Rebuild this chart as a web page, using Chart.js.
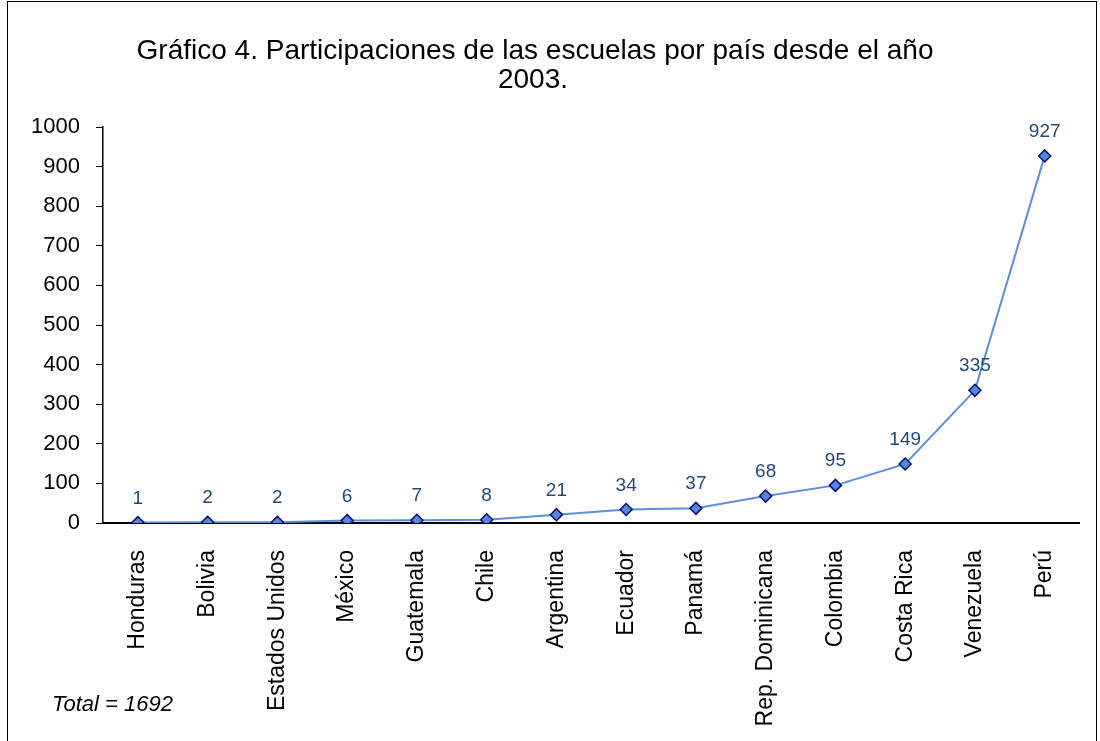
<!DOCTYPE html>
<html>
<head>
<meta charset="utf-8">
<script src="https://cdn.jsdelivr.net/npm/chart.js@4/dist/chart.umd.min.js"></script>
<style>
  html, body { margin: 0; padding: 0; background: #fff; }
  #wrap { width: 1100px; height: 741px; position: relative; }
</style>
</head>
<body>
<div id="wrap"><canvas id="chart" width="1100" height="741"></canvas></div>
<script>
const paises = ["Honduras", "Bolivia", "Estados Unidos", "México", "Guatemala", "Chile", "Argentina",
                "Ecuador", "Panamá", "Rep. Dominicana", "Colombia", "Costa Rica", "Venezuela", "Perú"];
const participaciones = [1, 2, 2, 6, 7, 8, 21, 34, 37, 68, 95, 149, 335, 927];
const tituloLineas = ["Gráfico 4. Participaciones de las escuelas por país desde el año", "2003."];
const notaTotal = "Total = 1692";

const FONT = "'Liberation Sans', Arial, sans-serif";

// marco, título, nota y etiquetas de valores
const extras = {
  id: 'extras',
  afterDatasetsDraw(chart) {
    const ctx = chart.ctx;
    ctx.save();
    ctx.strokeStyle = '#000';
    ctx.lineWidth = 1;
    ctx.strokeRect(7.5, 1.5, 1089, 760);

    ctx.fillStyle = '#000';
    ctx.textAlign = 'center';
    ctx.textBaseline = 'alphabetic';
    ctx.font = `28px ${FONT}`;
    ctx.fillText(tituloLineas[0], 535, 59);
    ctx.fillText(tituloLineas[1], 533, 88);

    ctx.textAlign = 'left';
    ctx.font = `italic 22px ${FONT}`;
    ctx.fillText(notaTotal, 52, 711);

    const meta = chart.getDatasetMeta(0);
    ctx.fillStyle = '#1F497D';
    ctx.textAlign = 'center';
    ctx.font = `19px ${FONT}`;
    meta.data.forEach((pt, i) => {
      ctx.fillText(String(participaciones[i]), pt.x, pt.y - 19);
    });
    ctx.restore();
  }
};

new Chart(document.getElementById('chart'), {
  type: 'line',
  data: {
    labels: paises,
    datasets: [{
      data: participaciones,
      borderColor: '#5B8FDB',
      borderWidth: 2,
      tension: 0,
      pointStyle: 'rectRot',
      pointRadius: 6,
      pointBackgroundColor: '#5288D8',
      pointBorderColor: '#0A0A80',
      pointBorderWidth: 1.5
    }]
  },
  options: {
    responsive: false,
    animation: false,
    layout: { padding: { top: 127, right: 20, left: 0, bottom: 0 } },
    plugins: { legend: { display: false }, title: { display: false }, tooltip: { enabled: false } },
    scales: {
      x: {
        offset: true,
        grid: { display: true, drawOnChartArea: false, drawTicks: false },
        border: { color: '#000', width: 2 },
        ticks: { color: '#000', font: { family: FONT, size: 23 }, minRotation: 90, maxRotation: 90, padding: 27, autoSkip: false },
        afterFit(scale) { scale.height = 741 - 523; }
      },
      y: {
        min: 0, max: 1000,
        grid: { display: true, drawOnChartArea: false, drawTicks: true, tickLength: 7, tickColor: '#000' },
        border: { color: '#000', width: 1.5 },
        ticks: { stepSize: 100, color: '#000', font: { family: FONT, size: 22 }, padding: 16,
                 callback: v => String(v) },
        afterFit(scale) { scale.width = 103; }
      }
    }
  },
  plugins: [extras]
});
</script>
</body>
</html>
